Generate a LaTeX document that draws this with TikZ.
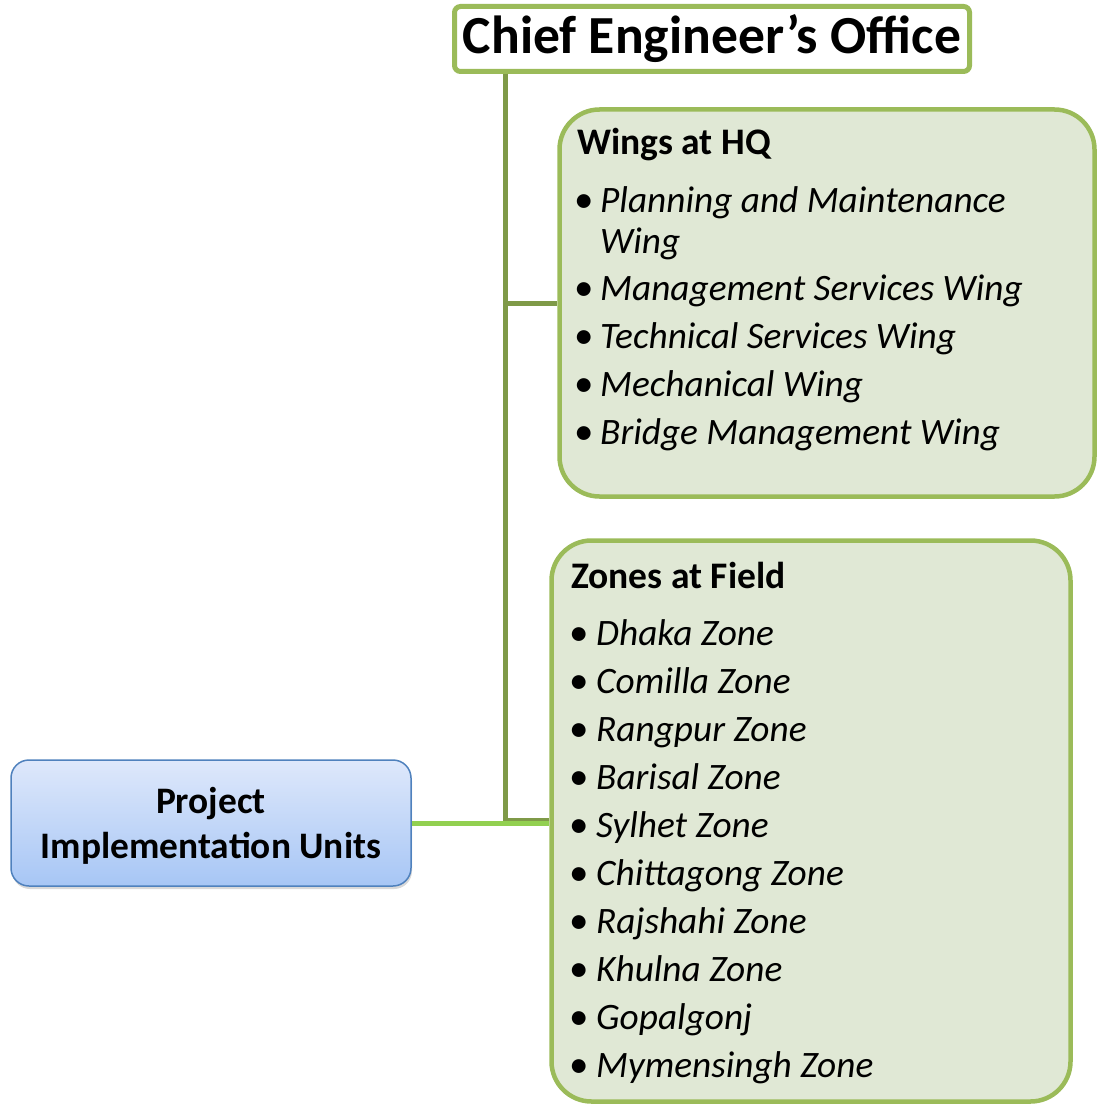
\documentclass[tikz,border=0pt]{standalone}
\usepackage{fontspec}
\setmainfont{Carlito}
\usepackage{xcolor}
\usepackage{tikz}
\usetikzlibrary{positioning,shadows}

\definecolor{leafgreen}{HTML}{9BBB59}
\definecolor{palegreen}{HTML}{E0E8D5}
\definecolor{trunkgreen}{HTML}{7F9A48}
\definecolor{limegreen}{HTML}{92D050}
\definecolor{unitblue}{HTML}{4F81BD}
\definecolor{unittop}{HTML}{DEE8FB}
\definecolor{unitbottom}{HTML}{A7C6F5}

\begin{document}
\begin{tikzpicture}[x=1pt,y=-1pt,
	titlebox/.style={draw=leafgreen,line width=5pt,rounded corners=6pt,fill=white,inner sep=0pt,font=\fontsize{53.6}{60}\selectfont\bfseries},
	groupbox/.style={draw=leafgreen,line width=4.5pt,rounded corners=40pt,fill=palegreen,inner sep=0pt},
	unitbox/.style={draw=unitblue,line width=1.5pt,rounded corners=18pt,top color=unittop,bottom color=unitbottom,
		drop shadow={shadow xshift=1pt,shadow yshift=-3pt,opacity=0.3},align=center,inner sep=0pt,
		font=\fontsize{37.4}{45}\selectfont\bfseries},
	heading/.style={anchor=base west,inner sep=0pt,font=\fontsize{37.5}{46}\selectfont\bfseries},
	entry/.style={anchor=base west,inner sep=0pt,font=\fontsize{37.3}{46}\selectfont\itshape},
	dot/.style={anchor=base west,inner sep=0pt,font=\fontsize{39}{46}\selectfont},
	link/.style={draw=trunkgreen,line width=5pt},
	unitlink/.style={draw=limegreen,line width=5pt}]
	\useasboundingbox (0,0) rectangle (1097,1110);
	% boxes
	\node[titlebox,minimum width=515pt,minimum height=65pt] (ceo) at (712,39) {Chief Engineer’s Office};
	\node[groupbox,minimum width=535pt,minimum height=387pt] (wings) at (827,303) {};
	\node[groupbox,minimum width=519pt,minimum height=561pt] (zones) at (811,821) {};
	\node[unitbox,minimum width=400pt,minimum height=126pt,text depth=0pt] (piu) at (211,823) {\raisebox{-6pt}{}Project\\Implementation Units};
	% connectors
	\coordinate (trunk) at (505,820);
	\draw[link] (ceo.south -| trunk) -- (trunk) -- (zones.west |- trunk);
	\draw[link] (ceo.south -| trunk) |- (wings.west);
	\draw[unitlink] (piu.east) -- (piu.east -| zones.west);
	% wings at HQ
	\node[heading] (hqhead) at (577,155) {Wings at HQ};
	\foreach \y/\b/\t [count=\i] in {212/•/Planning and Maintenance, 253//Wing,
		300/•/Management Services Wing, 348/•/Technical Services Wing,
		396/•/Mechanical Wing, 444/•/Bridge Management Wing}{
		\node[dot] (hqdot\i) at (574,\y) {\b};
		\node[entry] (hq\i) at (600,\y) {\t};
	}
	% zones at field
	\node[heading] (fieldhead) at (571,588) {Zones at Field};
	\foreach \t [count=\i] in {Dhaka Zone, Comilla Zone, Rangpur Zone, Barisal Zone, Sylhet Zone,
		Chittagong Zone, Rajshahi Zone, Khulna Zone, Gopalgonj, Mymensingh Zone}{
		\node[dot] (fielddot\i) at (569,597+48*\i) {•};
		\node[entry] (field\i) at (596,597+48*\i) {\t};
	}
\end{tikzpicture}
\end{document}
